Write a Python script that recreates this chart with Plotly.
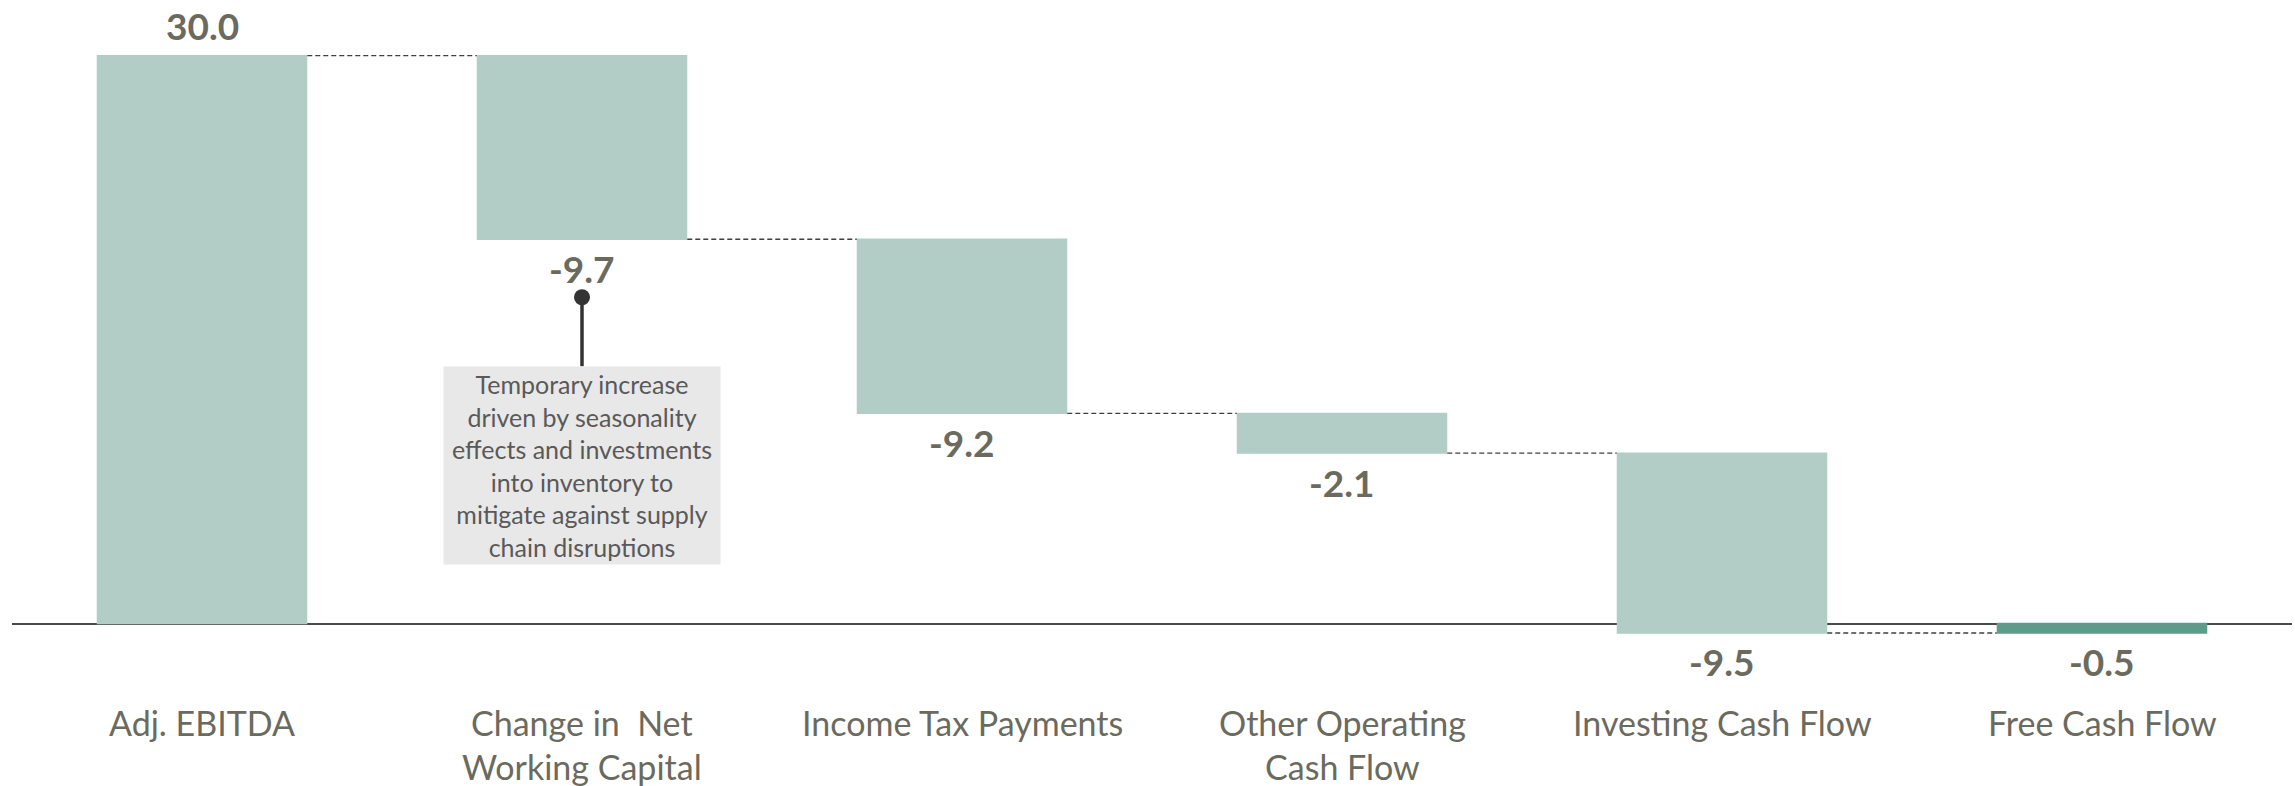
import plotly.graph_objects as go

# Free cash flow bridge
categories = ["Adj. EBITDA", "Change in  Net<br>Working Capital", "Income Tax Payments",
              "Other Operating<br>Cash Flow", "Investing Cash Flow", "Free Cash Flow"]
steps = [30.0, -9.7, -9.2, -2.1, -9.5]          # movements; last bar is the total
measures = ["relative"] * len(steps) + ["total"]

note_text = ("Temporary increase<br>driven by seasonality<br>effects and investments<br>"
             "into inventory to<br>mitigate against supply<br>chain disruptions")
note_index = 1

LIGHT = "#b2cdc5"
DARK = "#5f9b8b"
LABEL = "#6b6a5e"
FONT = "Lato"

# running level at the end of each bar
levels = []
run = 0.0
for v in steps:
    run += v
    levels.append(run)
levels.append(run)

x_idx = list(range(len(categories)))

fig = go.Figure(go.Waterfall(
    x=x_idx,
    y=steps + [0],
    measure=measures,
    width=[0.554] * len(categories),
    increasing=dict(marker=dict(color=LIGHT, line=dict(width=0))),
    decreasing=dict(marker=dict(color=LIGHT, line=dict(width=0))),
    totals=dict(marker=dict(color=DARK, line=dict(width=0))),
    connector=dict(mode="between", line=dict(color="#404040", width=1.3, dash="5px,3px")),
    textinfo="none",
    hoverinfo="skip",
    showlegend=False,
))

annotations = []
# value labels at the end of each bar
for i, lvl in enumerate(levels):
    val = steps[i] if i < len(steps) else levels[-1]
    up = val >= 0
    annotations.append(dict(
        x=i, y=lvl, xref="x", yref="y", text=f"{val:.1f}", showarrow=False,
        xanchor="center", yanchor="middle", yshift=30 if up else -29,
        font=dict(family=FONT, size=37, color=LABEL, weight="bold"),
    ))

# category labels under the axis
for i, name in enumerate(categories):
    annotations.append(dict(
        x=i, y=-4.04, xref="x", yref="y", text=name, showarrow=False,
        xanchor="center", yanchor="top", align="center",
        font=dict(family=FONT, size=34, color=LABEL),
    ))

# call-out box for the working capital bar
annotations.append(dict(
    x=note_index, y=levels[note_index], xref="x", yref="y", text=note_text,
    showarrow=False, xanchor="center", yanchor="top", yshift=-126.8,
    width=272, height=193, borderpad=2, bgcolor="#e8e8e8", align="center", valign="middle",
    font=dict(family=FONT, size=25, color="#595959"),
))

shapes = [
    dict(type="line", xref="x", yref="y", x0=note_index, x1=note_index,
         ysizemode="pixel", yanchor=levels[note_index], y0=-58, y1=-127,
         line=dict(color="#333333", width=3.5)),
    dict(type="circle", xref="x", yref="y", xsizemode="pixel", xanchor=note_index,
         x0=-8, x1=8, ysizemode="pixel", yanchor=levels[note_index], y0=-66, y1=-50,
         fillcolor="#333333", line=dict(width=0)),
]

fig.update_layout(
    width=2295, height=786,
    margin=dict(l=12, r=3, t=0, b=0),
    paper_bgcolor="white", plot_bgcolor="white",
    xaxis=dict(range=[-0.5, 5.5], visible=False, fixedrange=True),
    yaxis=dict(range=[-8.584, 32.94], showgrid=False, showticklabels=False,
               zeroline=True, zerolinecolor="#4a4a4a", zerolinewidth=2, fixedrange=True),
    annotations=annotations,
    shapes=shapes,
    font=dict(family=FONT),
)

fig.write_html("out.html")
